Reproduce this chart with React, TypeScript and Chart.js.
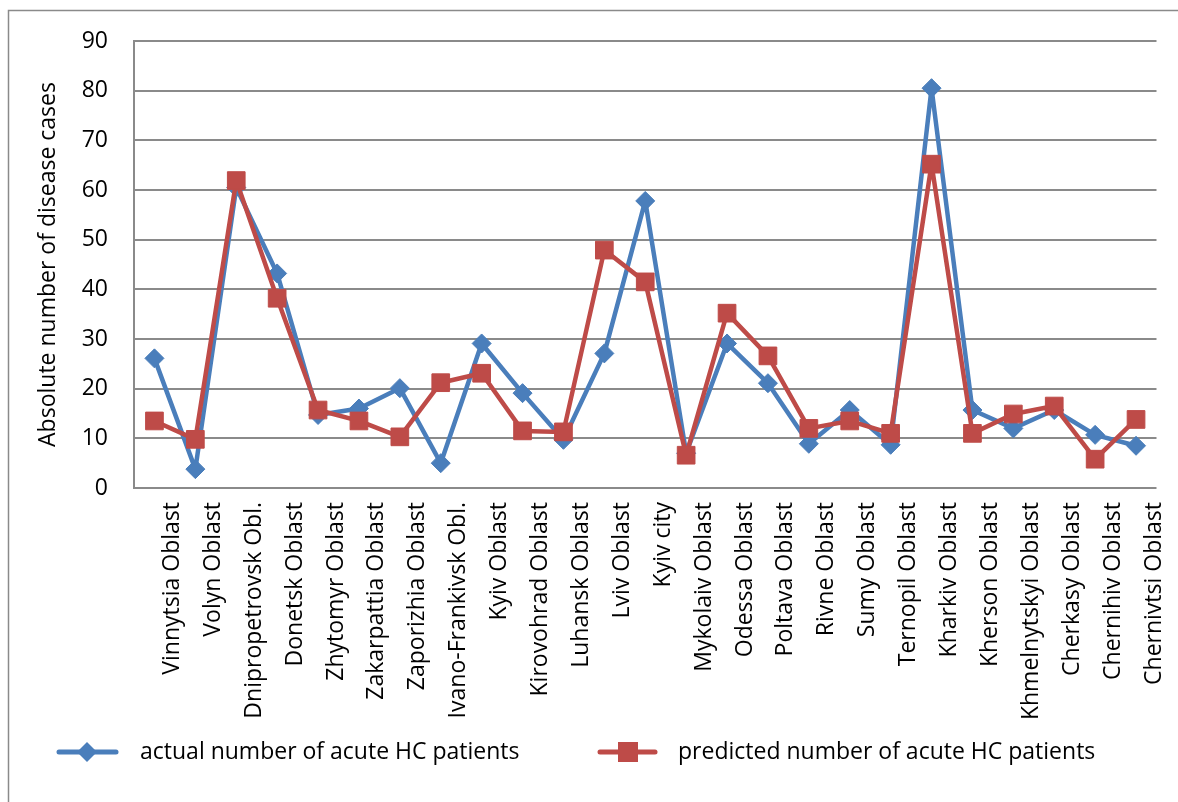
import React, { useEffect, useRef } from "react";
import { Chart, registerables } from "chart.js";

Chart.register(...registerables);

const categories = [
  "Vinnytsia Oblast",
  "Volyn Oblast",
  "Dnipropetrovsk Obl.",
  "Donetsk Oblast",
  "Zhytomyr Oblast",
  "Zakarpattia Oblast",
  "Zaporizhia Oblast",
  "Ivano-Frankivsk Obl.",
  "Kyiv Oblast",
  "Kirovohrad Oblast",
  "Luhansk Oblast",
  "Lviv Oblast",
  "Kyiv city",
  "Mykolaiv Oblast",
  "Odessa Oblast",
  "Poltava Oblast",
  "Rivne Oblast",
  "Sumy Oblast",
  "Ternopil Oblast",
  "Kharkiv Oblast",
  "Kherson Oblast",
  "Khmelnytskyi Oblast",
  "Cherkasy Oblast",
  "Chernihiv Oblast",
  "Chernivtsi Oblast",
];

const actualValues = [
  26.1, 3.8, 60.5, 43.2, 14.7, 16.0, 20.1, 5.0, 29.1, 19.1, 9.7, 27.1, 57.8,
  7.0, 29.1, 21.1, 8.9, 15.7, 8.7, 80.5, 15.7, 12.0, 15.7, 10.7, 8.5,
];

const predictedValues = [
  13.5, 9.8, 61.9, 38.2, 15.7, 13.5, 10.3, 21.2, 23.1, 11.5, 11.3, 47.9, 41.5,
  6.6, 35.2, 26.6, 12.0, 13.5, 11.0, 65.2, 11.0, 14.9, 16.5, 5.8, 13.8,
];

const seriesLabels = [
  "actual number of acute HC patients",
  "predicted number of acute HC patients",
];

const yTitle = "Absolute number of disease cases";
const yMin = 0;
const yMax = 90;
const yStep = 10;

const BLUE = "#4A7EBB";
const RED = "#BE4B48";
const GRID = "#8a8a8a";
const FONT = "'Open Sans', sans-serif";
const FONT_SIZE = 23;

const framePlugin = {
  id: "frame",
  beforeDraw(chart: any) {
    const ctx = chart.ctx;
    ctx.save();
    ctx.fillStyle = "#ffffff";
    ctx.fillRect(0, 0, chart.width, chart.height);
    ctx.strokeStyle = GRID;
    ctx.lineWidth = 1.5;
    ctx.beginPath();
    ctx.moveTo(8.5, chart.height);
    ctx.lineTo(8.5, 10.5);
    ctx.lineTo(chart.width, 10.5);
    ctx.stroke();
    ctx.restore();
  },
};

const legendPlugin = {
  id: "customLegend",
  afterDraw(chart: any) {
    const ctx = chart.ctx;
    const y = 752;
    const slots = [
      { x0: 59, x1: 116, mx: 87, tx: 140 },
      { x0: 600, x1: 655, mx: 628, tx: 678 },
    ];
    chart.data.datasets.forEach((ds: any, i: number) => {
      const s = slots[i];
      if (!s) return;
      ctx.save();
      ctx.strokeStyle = ds.borderColor;
      ctx.lineWidth = 5;
      ctx.lineCap = "round";
      ctx.beginPath();
      ctx.moveTo(s.x0, y);
      ctx.lineTo(s.x1, y);
      ctx.stroke();
      ctx.fillStyle = ds.pointBackgroundColor;
      ctx.beginPath();
      if (ds.pointStyle === "rectRot") {
        const r = 10;
        ctx.moveTo(s.mx, y - r);
        ctx.lineTo(s.mx + r, y);
        ctx.lineTo(s.mx, y + r);
        ctx.lineTo(s.mx - r, y);
        ctx.closePath();
      } else {
        const h = 10;
        ctx.rect(s.mx - h, y - h, 2 * h, 2 * h);
      }
      ctx.fill();
      ctx.fillStyle = "#000000";
      ctx.font = `${FONT_SIZE}px ${FONT}`;
      ctx.textAlign = "left";
      ctx.textBaseline = "middle";
      ctx.fillText(ds.label, s.tx, y);
      ctx.restore();
    });
  },
};

export default function App() {
  const canvasRef = useRef<HTMLCanvasElement | null>(null);

  useEffect(() => {
    if (!canvasRef.current) return;
    const chart = new Chart(canvasRef.current, {
      type: "line",
      data: {
        labels: categories,
        datasets: [
          {
            label: seriesLabels[0],
            data: actualValues,
            borderColor: BLUE,
            backgroundColor: BLUE,
            pointBackgroundColor: BLUE,
            pointBorderColor: BLUE,
            pointStyle: "rectRot",
            pointRadius: 9.5,
            pointBorderWidth: 1,
            borderWidth: 4.5,
            borderJoinStyle: "round",
            borderCapStyle: "round",
            tension: 0,
            order: 1,
          } as any,
          {
            label: seriesLabels[1],
            data: predictedValues,
            borderColor: RED,
            backgroundColor: RED,
            pointBackgroundColor: RED,
            pointBorderColor: RED,
            pointStyle: "rect",
            pointRadius: 12.5,
            pointBorderWidth: 1,
            borderWidth: 4.5,
            borderJoinStyle: "round",
            borderCapStyle: "round",
            tension: 0,
            order: 0,
          } as any,
        ],
      },
      options: {
        responsive: false,
        animation: false,
        devicePixelRatio: 1,
        layout: { padding: { left: 0, right: 18, top: 41, bottom: 0 } },
        plugins: {
          legend: { display: false },
          tooltip: { enabled: false },
        },
        scales: {
          x: {
            type: "category",
            offset: true,
            grid: { display: false, drawTicks: false },
            border: { display: false },
            ticks: {
              autoSkip: false,
              minRotation: 90,
              maxRotation: 90,
              padding: 14,
              labelOffset: 18,
              color: "#000000",
              font: { family: FONT, size: FONT_SIZE },
            },
            afterFit: (scale: any) => {
              scale.height = 314;
            },
          },
          y: {
            min: yMin,
            max: yMax,
            grid: {
              color: GRID,
              lineWidth: 2,
              drawTicks: false,
            },
            border: { display: true, color: GRID, width: 2 },
            ticks: {
              stepSize: yStep,
              padding: 26,
              color: "#000000",
              font: { family: FONT, size: FONT_SIZE },
            },
            title: {
              display: true,
              text: yTitle,
              color: "#000000",
              font: { family: FONT, size: FONT_SIZE },
              padding: { top: 35, bottom: 0 },
            },
            afterFit: (scale: any) => {
              scale.width = 134;
            },
          },
        },
      },
      plugins: [framePlugin, legendPlugin],
    });
    return () => chart.destroy();
  }, []);

  return (
    <div style={{ position: "absolute", left: 0, top: 0, width: 1178, height: 802 }}>
      <canvas ref={canvasRef} width={1178} height={802} style={{ width: 1178, height: 802, display: "block" }} />
    </div>
  );
}
